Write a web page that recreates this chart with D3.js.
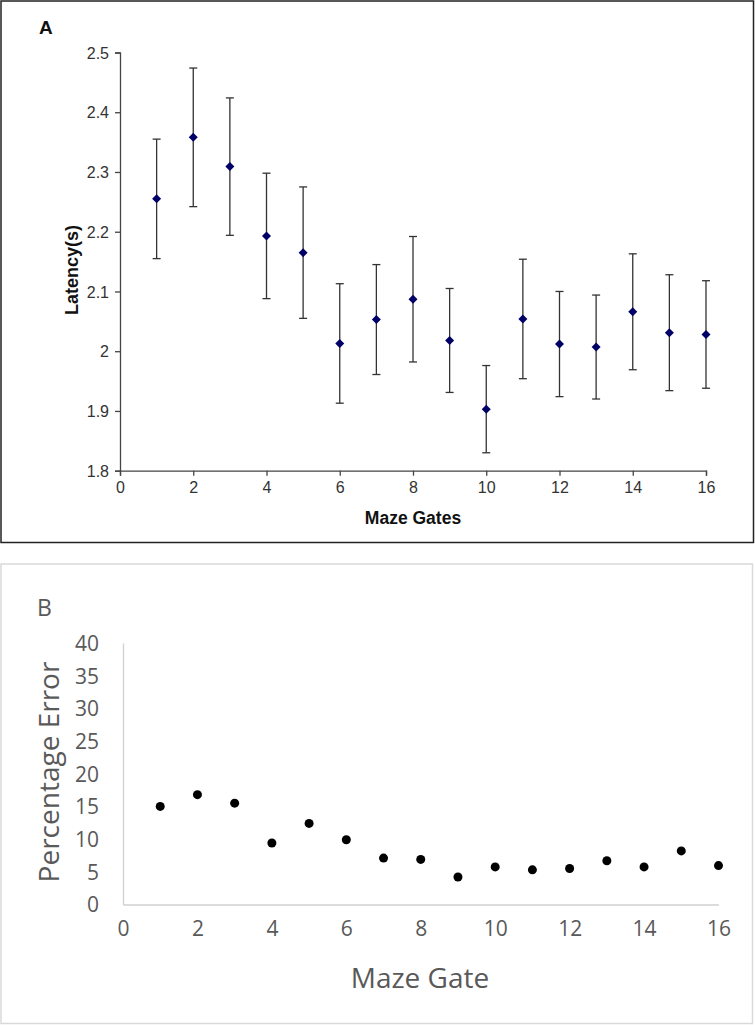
<!DOCTYPE html>
<html><head><meta charset="utf-8">
<script src="https://cdn.jsdelivr.net/npm/d3@7/dist/d3.min.js"></script>
<style>html,body{margin:0;padding:0;background:#fff;}svg{display:block;}</style>
</head><body>
<script>
// Panel A data
const gatesA = [1,2,3,4,5,6,7,8,9,10,11,12,13,14,15,16];
const latency = [2.255,2.358,2.309,2.193,2.165,2.013,2.053,2.087,2.018,1.903,2.054,2.012,2.007,2.066,2.031,2.028];
const latencyErr = [0.100,0.116,0.115,0.105,0.110,0.100,0.092,0.105,0.087,0.073,0.100,0.088,0.087,0.097,0.097,0.090];
const ticksAx = [0,2,4,6,8,10,12,14,16];
const ticksAy = [1.8,1.9,2.0,2.1,2.2,2.3,2.4,2.5];
// Panel B data
const gatesB = [1,2,3,4,5,6,7,8,9,10,11,12,13,14,15,16];
const pctError = [15.0,16.8,15.5,9.4,12.4,9.9,7.1,6.9,4.2,5.75,5.3,5.5,6.7,5.75,8.2,5.95];
const ticksBx = [0,2,4,6,8,10,12,14,16];
const ticksBy = [0,5,10,15,20,25,30,35,40];

const svg = d3.select("body").append("svg").attr("width",755).attr("height",1025);

// ---------- Panel A ----------
const gA = svg.append("g");
gA.append("rect").attr("x",1).attr("y",1).attr("width",752.5).attr("height",541.5)
  .attr("fill","#fff").attr("stroke","#222").attr("stroke-width",1.5);
gA.append("text").attr("x",39).attr("y",34).text("A")
  .attr("font-family","Liberation Sans, Arial, sans-serif").attr("font-weight","bold").attr("font-size",19).attr("fill","#111");

const xA = d3.scaleLinear().domain([0,16]).range([120,706]);
const yA = d3.scaleLinear().domain([1.8,2.5]).range([470.7,52.5]);
const fontA = "Liberation Sans, Arial, sans-serif";

const axA = gA.append("g").attr("transform","translate(0,470.7)")
  .call(d3.axisBottom(xA).tickValues(ticksAx).tickSize(5).tickPadding(6).tickFormat(d3.format("d")));
const ayA = gA.append("g").attr("transform","translate(120,0)")
  .call(d3.axisLeft(yA).tickValues(ticksAy).tickSize(5).tickPadding(6).tickFormat(d => d===2 ? "2" : d3.format(".1f")(d)));
[axA, ayA].forEach(a => {
  a.select(".domain").attr("stroke","#444").attr("stroke-width",1.3);
  a.selectAll(".tick line").attr("stroke","#444").attr("stroke-width",1.3);
  a.selectAll(".tick text").attr("font-family",fontA).attr("font-size",16).attr("fill","#333");
});
ayA.selectAll(".tick text").attr("dy","0.35em");

gA.append("text").attr("x",413).attr("y",524).attr("text-anchor","middle").text("Maze Gates")
  .attr("font-family",fontA).attr("font-weight","bold").attr("font-size",17.5).attr("fill","#111");
gA.append("text").attr("transform","translate(78,270) rotate(-90)").attr("text-anchor","middle").text("Latency(s)")
  .attr("font-family",fontA).attr("font-weight","bold").attr("font-size",18).attr("fill","#111");

const errG = gA.append("g");
gatesA.forEach((g,i) => {
  const x = xA(g), yt = yA(latency[i]+latencyErr[i]), yb = yA(latency[i]-latencyErr[i]);
  errG.append("line").attr("x1",x).attr("x2",x).attr("y1",yt).attr("y2",yb).attr("stroke","#333").attr("stroke-width",1.3);
  errG.append("line").attr("x1",x-4).attr("x2",x+4).attr("y1",yt).attr("y2",yt).attr("stroke","#333").attr("stroke-width",1.3);
  errG.append("line").attr("x1",x-4).attr("x2",x+4).attr("y1",yb).attr("y2",yb).attr("stroke","#333").attr("stroke-width",1.3);
});
gA.append("g").selectAll("path").data(gatesA).join("path")
  .attr("d","M0,-4.5 L4.5,0 L0,4.5 L-4.5,0 Z")
  .attr("transform",(d,i)=>`translate(${xA(d)},${yA(latency[i])})`)
  .attr("fill","#000066");

// ---------- Panel B ----------
const gB = svg.append("g");
gB.append("rect").attr("x",1).attr("y",564).attr("width",751.5).attr("height",459.5)
  .attr("fill","#fff").attr("stroke","#d9d9d9").attr("stroke-width",1.5);
const fontB = "Open Sans, Noto Sans, sans-serif";
gB.append("text").attr("x",37).attr("y",616).text("B")
  .attr("font-family",fontB).attr("font-size",23).attr("fill","#595959");

const xB = d3.scaleLinear().domain([0,16]).range([123,718.5]);
const yB = d3.scaleLinear().domain([0,40]).range([904.5,643]);

const axB = gB.append("g").attr("transform","translate(0,904.5)")
  .call(d3.axisBottom(xB).tickValues(ticksBx).tickSize(0).tickPadding(17).tickFormat(d3.format("d")));
const ayB = gB.append("g").attr("transform","translate(123,0)")
  .call(d3.axisLeft(yB).tickValues(ticksBy).tickSize(0).tickPadding(24).tickFormat(d3.format("d")));
[axB, ayB].forEach(a => {
  a.select(".domain").attr("stroke","#d0d0d0").attr("stroke-width",1.3);
  a.selectAll(".tick text").attr("font-family",fontB).attr("font-size",21).attr("fill","#595959");
});
ayB.selectAll(".tick text").attr("dy","0.35em");

gB.append("text").attr("x",420).attr("y",988).attr("text-anchor","middle").text("Maze Gate")
  .attr("font-family",fontB).attr("font-size",28).attr("fill","#595959");
gB.append("text").attr("transform","translate(59,772) rotate(-90)").attr("text-anchor","middle").text("Percentage Error")
  .attr("font-family",fontB).attr("font-size",28).attr("fill","#595959");

gB.append("g").selectAll("circle").data(gatesB).join("circle")
  .attr("cx",d=>xB(d)).attr("cy",(d,i)=>yB(pctError[i])).attr("r",4.5).attr("fill","#000");
</script>
</body></html>
